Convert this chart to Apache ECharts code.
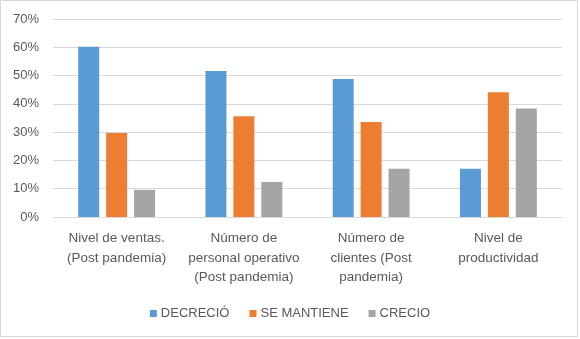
<!DOCTYPE html>
<html>
<head>
<meta charset="utf-8">
<script src="https://cdn.jsdelivr.net/npm/echarts@6/dist/echarts.min.js"></script>
<style>
html,body{margin:0;padding:0;background:#fff;}
#c{width:580px;height:339px;}
</style>
</head>
<body>
<div id="c"></div>
<script>
const categories = [
  "Nivel de ventas.\n(Post pandemia)",
  "Número de\npersonal operativo\n(Post pandemia)",
  "Número de\nclientes (Post\npandemia)",
  "Nivel de\nproductividad"
];
const seriesNames = ["DECRECIÓ", "SE MANTIENE", "CRECIO"];
const decrecio = [60.2, 51.6, 48.8, 17.1];
const seMantiene = [29.7, 35.6, 33.6, 44.1];
const crecio = [9.6, 12.4, 17.1, 38.4];
const yTicks = [0, 10, 20, 30, 40, 50, 60, 70];

const colors = ["#5B9BD5", "#ED7D31", "#A5A5A5"];
const font = "'Liberation Sans', Arial, sans-serif";

const chart = echarts.init(document.getElementById('c'), null, {renderer: 'canvas'});
const mk = (name, data, i) => ({
  name: name, type: 'bar', data: data, barWidth: 21, barGap: '33%',
  itemStyle: {color: colors[i]}
});
chart.setOption({
  animation: false,
  color: colors,
  graphic: [{
    type: 'rect', shape: {x: 0.5, y: 0.5, width: 577, height: 336},
    style: {fill: null, stroke: '#D9D9D9', lineWidth: 1}, silent: true
  }],
  grid: {left: 53, right: 18, top: 19, bottom: 122, containLabel: false},
  legend: {
    data: seriesNames, bottom: 14, left: 'center',
    itemWidth: 7, itemHeight: 7, itemGap: 20, icon: 'rect',
    textStyle: {color: '#595959', fontSize: 13, fontFamily: font, padding: [0, 0, 0, -1]}
  },
  xAxis: {
    type: 'category', data: categories,
    axisLine: {lineStyle: {color: '#D9D9D9'}},
    axisTick: {show: false},
    axisLabel: {color: '#595959', fontSize: 13.5, fontFamily: font, lineHeight: 19.5, margin: 12, interval: 0}
  },
  yAxis: {
    type: 'value', min: yTicks[0], max: yTicks[yTicks.length - 1], interval: 10,
    axisLine: {show: false}, axisTick: {show: false},
    splitLine: {lineStyle: {color: '#D9D9D9'}},
    axisLabel: {color: '#595959', fontSize: 13, fontFamily: font, margin: 14, formatter: '{value}%'}
  },
  series: [mk(seriesNames[0], decrecio, 0), mk(seriesNames[1], seMantiene, 1), mk(seriesNames[2], crecio, 2)]
});
</script>
</body>
</html>
